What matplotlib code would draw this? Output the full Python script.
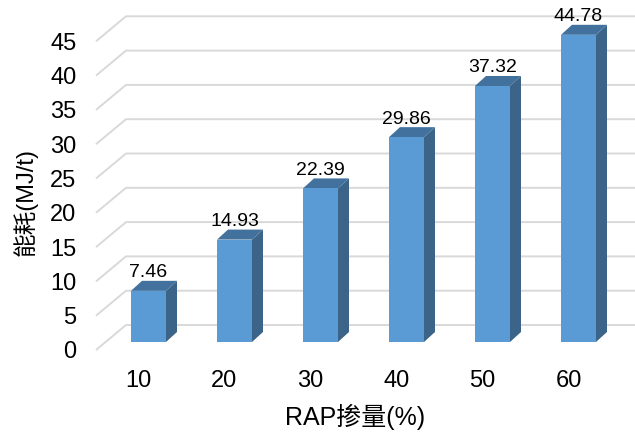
import matplotlib
matplotlib.use("Agg")
import matplotlib.pyplot as plt
from matplotlib.patches import Polygon
from matplotlib.transforms import ScaledTranslation

plt.rcParams['font.family'] = ['Liberation Sans', 'Noto Sans CJK SC', 'DejaVu Sans']

# Data
rap_content = ['10', '20', '30', '40', '50', '60']
energy = [7.46, 14.93, 22.39, 29.86, 37.32, 44.78]
y_ticks = [0, 5, 10, 15, 20, 25, 30, 35, 40, 45]

W, H = 635, 432
DPI = 100
LEFT, RIGHT, BASE = 96, 635, 342
BAR_SPACING = 86.0
UNIT = 6.86
FIRST_CENTER = 148.5

PX_X = 1 / BAR_SPACING
PX_Y = 1 / UNIT

FRONT = '#5b9bd5'
SIDE = '#3b6488'
TOP = '#41719c'
GRID = '#d9d9d9'

fig = plt.figure(figsize=(W / DPI, H / DPI), dpi=DPI, facecolor='white')
ax = fig.add_axes([LEFT / W, (H - BASE) / H, (RIGHT - LEFT) / W, BASE / H])
xmin = (LEFT - FIRST_CENTER) / BAR_SPACING
xmax = (RIGHT - FIRST_CENTER) / BAR_SPACING
ax.set_xlim(xmin, xmax)
ax.set_ylim(0, BASE / UNIT)
ax.patch.set_alpha(0)
for spine in ax.spines.values():
    spine.set_visible(False)

# Floor and wall gridlines of the 3-D frame
for v in y_ticks:
    ax.plot([xmin, xmin + 30 * PX_X, xmax],
            [v - 8 * PX_Y, v + 17 * PX_Y, v + 17 * PX_Y],
            color=GRID, lw=1.4, clip_on=False, zorder=1, solid_capstyle='butt')

# Extruded bars
half = 17.5 * PX_X
dx, dy = 11 * PX_X, 10 * PX_Y
for i, v in enumerate(energy):
    l, r = i - half, i + half
    ax.add_patch(Polygon([(r, 0), (r + dx, dy), (r + dx, v + dy), (r, v)],
                         fc=SIDE, ec='none', zorder=3))
    ax.add_patch(Polygon([(l, v), (r, v), (r + dx, v + dy), (l + dx, v + dy)],
                         fc=TOP, ec='none', zorder=3))
    ax.bar(i, v, width=2 * half, color=FRONT, zorder=4)
    ax.text(i, v + 18 * PX_Y, f'{v:.2f}', ha='center', va='center',
            fontsize=14, color='black', zorder=5)

# Axis ticks and labels
ax.set_yticks(y_ticks)
ax.set_xticks(range(len(rap_content)))
ax.set_xticklabels(rap_content)
ax.tick_params(axis='both', length=0, labelsize=17, colors='black')
ax.tick_params(axis='y', pad=14)
ax.tick_params(axis='x', pad=20)
for lab in ax.get_yticklabels():
    lab.set_transform(lab.get_transform() + ScaledTranslation(0, -8 / DPI, fig.dpi_scale_trans))
for lab in ax.get_xticklabels():
    lab.set_transform(lab.get_transform() + ScaledTranslation(-10 / DPI, 0, fig.dpi_scale_trans))

fig.text(355 / W, 1 - 417 / H, 'RAP掺量(%)', ha='center', va='center', fontsize=18)
fig.text(25 / W, 1 - 202 / H, '能耗(MJ/t)', ha='center', va='center',
         rotation=90, fontsize=17)

fig.savefig('out.png', dpi=DPI, facecolor='white')
